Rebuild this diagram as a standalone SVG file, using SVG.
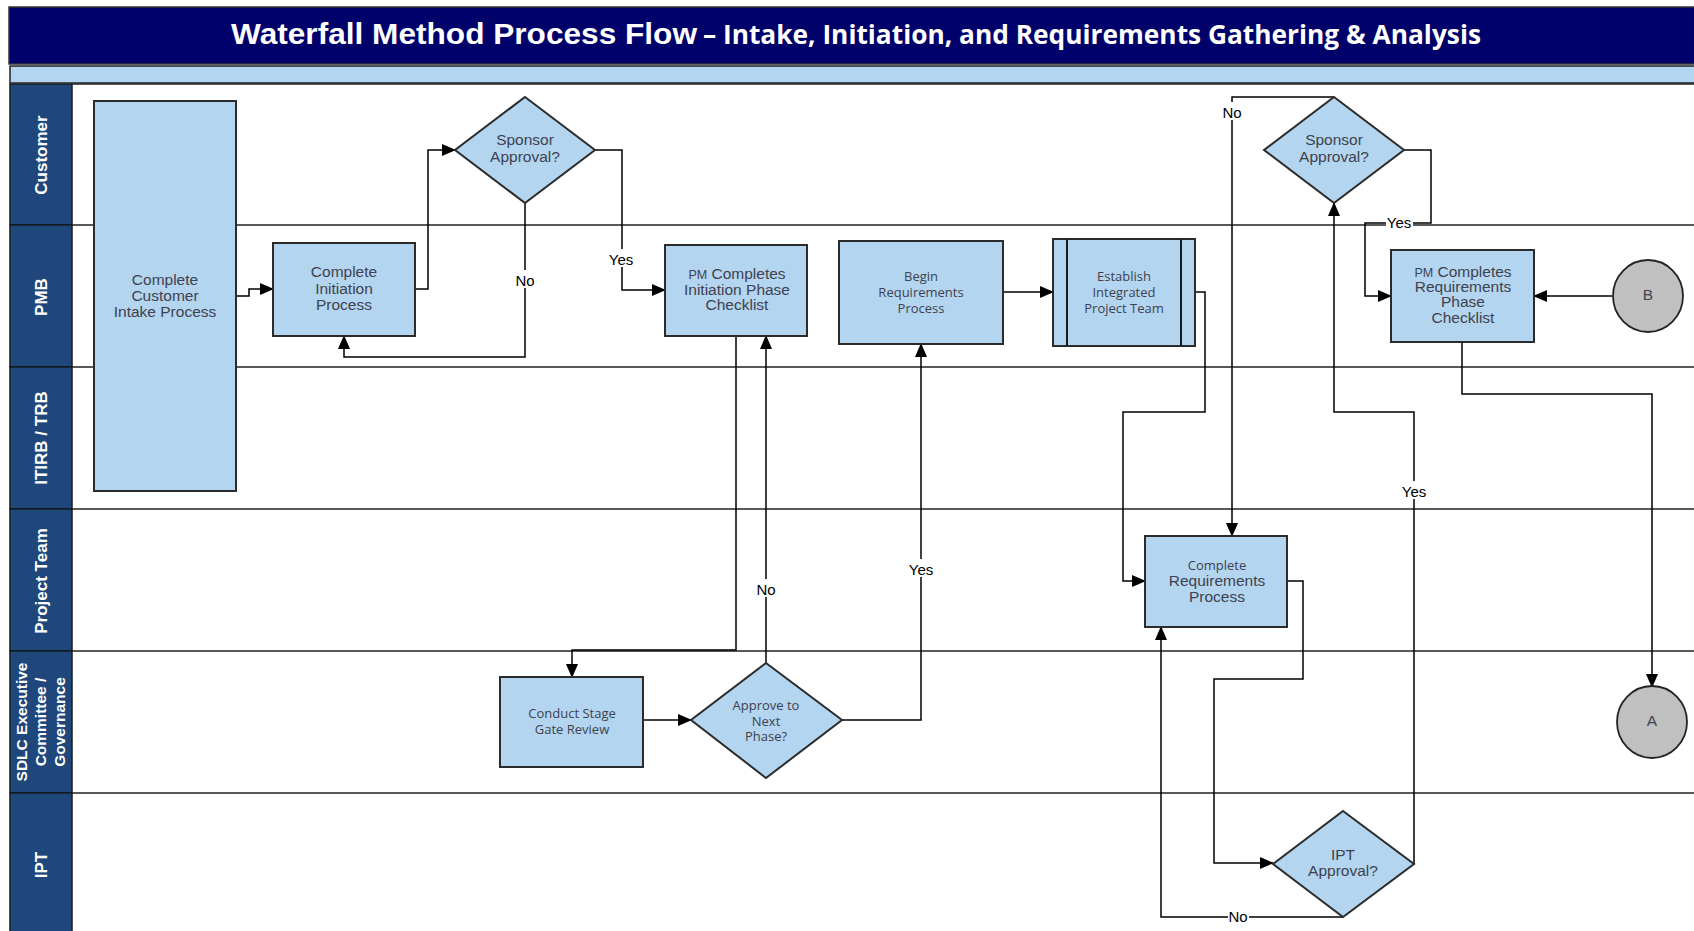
<svg xmlns="http://www.w3.org/2000/svg" width="1694" height="931" viewBox="0 0 1694 931">
  <defs>
    <marker id="arrow" markerUnits="userSpaceOnUse" markerWidth="14" markerHeight="12" viewBox="0 0 14 12" refX="13" refY="6" orient="auto">
      <path d="M0,0 L14,6 L0,12 Z" fill="#000"/>
    </marker>
    <style>
      .lanehead { fill: #1f477b; stroke: #111; stroke-width: 1.2; }
      .lanelbl { fill: #fff; font-family: "Liberation Sans", Arial, sans-serif; font-weight: bold; text-anchor: middle; }
      .laneline { stroke: #222; stroke-width: 1.3; }
      .box { fill: #b3d5ef; stroke: #2b2b2b; stroke-width: 2; }
      .term { fill: #c0c0c0; stroke: #222; stroke-width: 1.8; }
      .t { font-family: "Liberation Sans", Arial, sans-serif; font-size: 15.5px; fill: #3f4150; text-anchor: middle; }
      .c { font-family: "Open Sans", "Liberation Sans", sans-serif; font-size: 13px; fill: #3f4150; text-anchor: middle; }
      .conn { fill: none; stroke: #000; stroke-width: 1.5; }
      .lbl { font-family: "Liberation Sans", Arial, sans-serif; font-size: 15px; fill: #000; text-anchor: middle; }
      .bg { fill: #fff; }
    </style>
  </defs>

  <rect x="0" y="0" width="1694" height="931" fill="#fff"/>

  <!-- Title banner -->
  <g id="title">
    <rect x="9" y="7" width="1690" height="57" fill="#00006b" stroke="#333" stroke-width="1.5"/>
    <text y="44" fill="#fff" font-weight="bold">
      <tspan x="231" font-family="Liberation Sans, Arial, sans-serif" font-size="30" textLength="466" lengthAdjust="spacingAndGlyphs">Waterfall Method Process Flow</tspan>
      <tspan x="703" font-family="Open Sans, Liberation Sans, sans-serif" font-size="27" textLength="778" lengthAdjust="spacingAndGlyphs">– Intake, Initiation, and Requirements Gathering &amp; Analysis</tspan>
    </text>
    <rect x="10" y="66" width="1690" height="17" fill="#b3d5ef" stroke="#222" stroke-width="1.5"/>
  </g>

  <!-- Swimlanes -->
  <g id="lanes">
    <rect x="10" y="84" width="62" height="850" fill="#1f477b" stroke="#666" stroke-width="1"/>
    <rect class="lanehead" x="10" y="84" width="62" height="141"/>
    <rect class="lanehead" x="10" y="225" width="62" height="142"/>
    <rect class="lanehead" x="10" y="367" width="62" height="142"/>
    <rect class="lanehead" x="10" y="509" width="62" height="142"/>
    <rect class="lanehead" x="10" y="651" width="62" height="142"/>
    <rect class="lanehead" x="10" y="793" width="62" height="142"/>
    <line class="laneline" x1="72" y1="84" x2="1694" y2="84"/>
    <line class="laneline" x1="72" y1="225" x2="1694" y2="225"/>
    <line class="laneline" x1="72" y1="367" x2="1694" y2="367"/>
    <line class="laneline" x1="72" y1="509" x2="1694" y2="509"/>
    <line class="laneline" x1="72" y1="651" x2="1694" y2="651"/>
    <line class="laneline" x1="72" y1="793" x2="1694" y2="793"/>
    <text class="lanelbl" font-size="17" transform="translate(47,155) rotate(-90)">Customer</text>
    <text class="lanelbl" font-size="17" transform="translate(47,297) rotate(-90)">PMB</text>
    <text class="lanelbl" font-size="17" transform="translate(47,438) rotate(-90)">ITIRB / TRB</text>
    <text class="lanelbl" font-size="17" transform="translate(47,581) rotate(-90)">Project Team</text>
    <text class="lanelbl" font-size="15.5" transform="translate(27,722) rotate(-90)">SDLC Executive</text>
    <text class="lanelbl" font-size="15.5" transform="translate(46,722) rotate(-90)">Committee /</text>
    <text class="lanelbl" font-size="15.5" transform="translate(65,722) rotate(-90)">Governance</text>
    <text class="lanelbl" font-size="17" transform="translate(47,865) rotate(-90)">IPT</text>
  </g>

  <!-- Connectors -->
  <g id="connectors">
    <path class="conn" d="M236,296 H249 V289 H273" marker-end="url(#arrow)"/>
    <path class="conn" d="M415,289 H428 V150 H455" marker-end="url(#arrow)"/>
    <path class="conn" d="M525,203 V357 H344 V336" marker-end="url(#arrow)"/>
    <path class="conn" d="M595,150 H622 V290 H665" marker-end="url(#arrow)"/>
    <path class="conn" d="M736,336 V650 H572 V677" marker-end="url(#arrow)"/>
    <path class="conn" stroke-width="2" d="M766,663 V336" marker-end="url(#arrow)"/>
    <path class="conn" stroke-width="2" d="M643,720 H691" marker-end="url(#arrow)"/>
    <path class="conn" d="M842,720 H921 V344" marker-end="url(#arrow)"/>
    <path class="conn" stroke-width="2" d="M1003,292 H1053" marker-end="url(#arrow)"/>
    <path class="conn" d="M1195,292 H1205 V412 H1123 V581 H1145" marker-end="url(#arrow)"/>
    <path class="conn" d="M1334,97 H1232 V536" marker-end="url(#arrow)"/>
    <path class="conn" d="M1404,150 H1431 V223 H1365 V296 H1391" marker-end="url(#arrow)"/>
    <path class="conn" d="M1414,864 V412 H1334 V203" marker-end="url(#arrow)"/>
    <path class="conn" d="M1287,581 H1303 V679 H1214 V863 H1273" marker-end="url(#arrow)"/>
    <path class="conn" d="M1343,917 H1161 V627" marker-end="url(#arrow)"/>
    <path class="conn" d="M1612,296 H1534" marker-end="url(#arrow)"/>
    <path class="conn" d="M1462,342 V394 H1652 V687" marker-end="url(#arrow)"/>

    <rect class="bg" x="514" y="270" width="22" height="18"/>
    <text class="lbl" x="525" y="286">No</text>
    <rect class="bg" x="607" y="249" width="28" height="18"/>
    <text class="lbl" x="621" y="265">Yes</text>
    <rect class="bg" x="755" y="579" width="22" height="18"/>
    <text class="lbl" x="766" y="595">No</text>
    <rect class="bg" x="907" y="559" width="28" height="18"/>
    <text class="lbl" x="921" y="575">Yes</text>
    <rect class="bg" x="1221" y="102" width="22" height="18"/>
    <text class="lbl" x="1232" y="118">No</text>
    <rect class="bg" x="1386" y="215" width="27" height="16"/>
    <text class="lbl" x="1399" y="228">Yes</text>
    <rect class="bg" x="1400" y="481" width="28" height="18"/>
    <text class="lbl" x="1414" y="497">Yes</text>
    <rect class="bg" x="1228" y="910" width="21" height="16"/>
    <text class="lbl" x="1238" y="922">No</text>
  </g>

  <!-- Nodes -->
  <g id="intake">
    <rect class="box" x="94" y="101" width="142" height="390"/>
    <text class="t" x="165" y="285">Complete</text>
    <text class="t" x="165" y="301">Customer</text>
    <text class="t" x="165" y="317">Intake Process</text>
  </g>

  <g id="initiation">
    <rect class="box" x="273" y="243" width="142" height="93"/>
    <text class="t" x="344" y="277">Complete</text>
    <text class="t" x="344" y="294">Initiation</text>
    <text class="t" x="344" y="310">Process</text>
  </g>

  <g id="sponsor1">
    <polygon class="box" points="525,97 595,150 525,203 455,150"/>
    <text class="t" x="525" y="145" font-size="15">Sponsor</text>
    <text class="t" x="525" y="162" font-size="15">Approval?</text>
  </g>

  <g id="pm-initiation">
    <rect class="box" x="665" y="245" width="142" height="91"/>
    <text class="t" x="737" y="279"><tspan font-size="12.5">PM</tspan> Completes</text>
    <text class="t" x="737" y="295" font-size="13">Initiation Phase</text>
    <text class="t" x="737" y="310">Checklist</text>
  </g>

  <g id="begin-req">
    <rect class="box" x="839" y="241" width="164" height="103"/>
    <text class="c" x="921" y="281">Begin</text>
    <text class="c" x="921" y="297">Requirements</text>
    <text class="c" x="921" y="313">Process</text>
  </g>

  <g id="establish-ipt">
    <rect class="box" x="1053" y="239" width="142" height="107"/>
    <line x1="1067" y1="239" x2="1067" y2="346" stroke="#1a1a1a" stroke-width="2"/>
    <line x1="1181" y1="239" x2="1181" y2="346" stroke="#1a1a1a" stroke-width="2"/>
    <text class="c" x="1124" y="281">Establish</text>
    <text class="c" x="1124" y="297">Integrated</text>
    <text class="c" x="1124" y="313">Project Team</text>
  </g>

  <g id="sponsor2">
    <polygon class="box" points="1334,97 1404,150 1334,203 1264,150"/>
    <text class="t" x="1334" y="145" font-size="15">Sponsor</text>
    <text class="t" x="1334" y="162" font-size="15">Approval?</text>
  </g>

  <g id="pm-requirements">
    <rect class="box" x="1391" y="250" width="143" height="92"/>
    <text class="t" x="1463" y="277"><tspan font-size="12.5">PM</tspan> Completes</text>
    <text class="t" x="1463" y="292">Requirements</text>
    <text class="t" x="1463" y="307">Phase</text>
    <text class="t" x="1463" y="323">Checklist</text>
  </g>

  <g id="connector-b">
    <ellipse class="term" cx="1648" cy="296" rx="35" ry="36"/>
    <text class="t" x="1648" y="300" font-size="11" fill="#222">B</text>
  </g>

  <g id="complete-req">
    <rect class="box" x="1145" y="536" width="142" height="91"/>
    <text class="c" x="1217" y="570">Complete</text>
    <text class="t" x="1217" y="586">Requirements</text>
    <text class="t" x="1217" y="602">Process</text>
  </g>

  <g id="ipt-approval">
    <polygon class="box" points="1343,811 1414,864 1343,917 1273,864"/>
    <text class="t" x="1343" y="860" font-size="15">IPT</text>
    <text class="t" x="1343" y="876" font-size="15">Approval?</text>
  </g>

  <g id="connector-a">
    <ellipse class="term" cx="1652" cy="722" rx="35" ry="36"/>
    <text class="t" x="1652" y="726" font-size="11" fill="#222">A</text>
  </g>

  <g id="stage-gate">
    <rect class="box" x="500" y="677" width="143" height="90"/>
    <text class="c" x="572" y="718">Conduct Stage</text>
    <text class="c" x="572" y="734">Gate Review</text>
  </g>

  <g id="next-phase">
    <polygon class="box" points="766,663 842,720 766,778 691,720"/>
    <text class="c" x="766" y="710">Approve to</text>
    <text class="c" x="766" y="726">Next</text>
    <text class="c" x="766" y="741">Phase?</text>
  </g>
</svg>
